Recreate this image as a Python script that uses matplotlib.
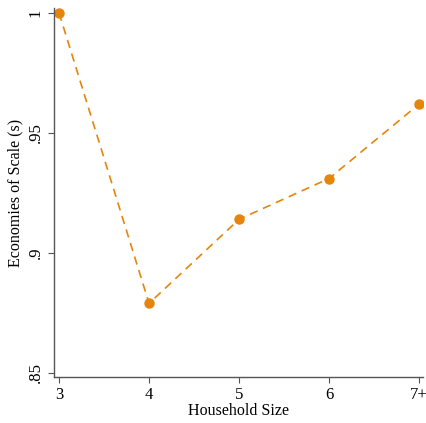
import matplotlib.pyplot as plt

plt.rcParams['font.family'] = ['Liberation Serif', 'DejaVu Serif']

sizes = [3, 4, 5, 6, 7]
size_labels = ["3", "4", "5", "6", "7+"]
scale = [1.0, 0.879, 0.914, 0.931, 0.962]
yticks = [0.85, 0.9, 0.95, 1.0]
ytick_labels = [".85", ".9", ".95", "1"]

fig = plt.figure(figsize=(4.27, 4.23), dpi=100)
ax = fig.add_axes([0.1265, 0.1087, 0.864, 0.872])

ax.plot(sizes, scale, color="#E5850C", linestyle=(0, (5, 3.5)), linewidth=1.2,
        marker="o", markersize=6.5)

ax.set_xlim(2.944, 7.044)
ax.set_ylim(0.8483, 1.002)
ax.set_xticks(sizes)
ax.set_xticklabels(size_labels)
ax.set_yticks(yticks)
ax.set_yticklabels(ytick_labels, rotation=90, va="center")

ax.spines["top"].set_visible(False)
ax.spines["right"].set_visible(False)
for s in ["left", "bottom"]:
    ax.spines[s].set_color("#555555")
    ax.spines[s].set_linewidth(1.0)
ax.tick_params(colors="#555555", labelcolor="black", labelsize=12, length=4)

ax.set_xlabel("Household Size", fontsize=11.5, labelpad=0)
ax.set_ylabel("Economies of Scale (s)", fontsize=11.5, labelpad=3)

fig.savefig("out.png", dpi=100)
